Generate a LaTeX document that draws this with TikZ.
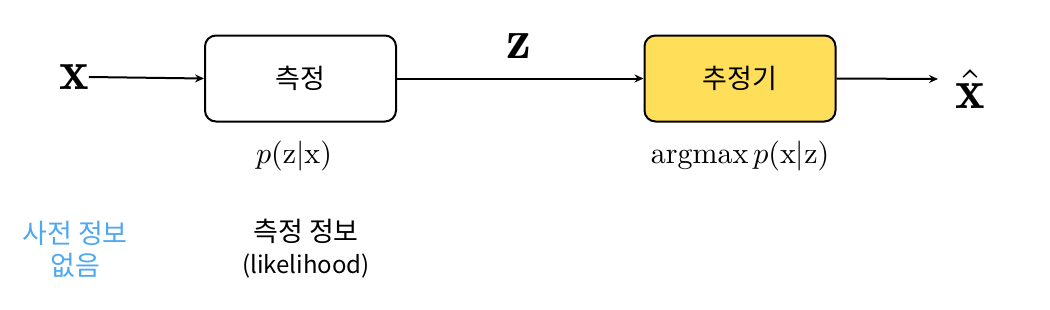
\documentclass[tikz,border=0pt]{standalone}
\usepackage{fontspec}
\newfontfamily\kr{Noto Sans CJK KR}
\usetikzlibrary{arrows.meta}
\definecolor{boxyellow}{HTML}{FFDE59}
\definecolor{priorblue}{HTML}{4DA8F2}
\tikzset{
  blockbox/.style={draw=black, line width=2pt, rounded corners=11pt, minimum width=191pt, minimum height=86pt, inner sep=0pt},
  conn/.style={line width=2pt, -{Stealth[length=9pt,width=8pt,inset=3pt]}},
  krtext/.style={font=\kr\fontsize{27}{32}\selectfont, align=center},
  bigsym/.style={inner sep=0pt},
  mathlbl/.style={inner sep=0pt}
}
\newcommand{\mybigsym}[1]{\scalebox{5.6}{$#1$}}
\newcommand{\mylblm}[1]{\scalebox{3.0}{$#1$}}
\begin{document}
\begin{tikzpicture}[x=1pt,y=-1pt]
\useasboundingbox (0,0) rectangle (1050,309);
\node[bigsym] (x) at (74,77) {\mybigsym{\mathbf{x}}};
\node[blockbox, krtext] (meas) at (300.5,78.5) {측정};
\node[blockbox, krtext, fill=boxyellow] (est) at (740,78.5) {추정기};
\node[bigsym] (z) at (519,46) {\mybigsym{\mathbf{z}}};
\node[bigsym] (xhat) at (970,89) {\mybigsym{\hat{\mathbf{x}}}};
\coordinate (xhatin) at (938,79);
\node[mathlbl] (lik) at (294,156) {\mylblm{p(\mathrm{z}|\mathrm{x})}};
\node[mathlbl] (post) at (740,156) {\mylblm{\mathrm{argmax}\,p(\mathrm{x}|\mathrm{z})}};
\node[krtext, text=priorblue] (prior) at (75,249) {사전 정보\\없음};
\node[krtext] (likinfo) at (306,249) {측정 정보\\{\fontsize{24}{32}\selectfont(likelihood)}};
\draw[conn] (x.east) -- (meas.west);
\draw[conn] (meas.east) -- (est.west);
\draw[conn] (est.east) -- (xhatin);
\end{tikzpicture}
\end{document}
